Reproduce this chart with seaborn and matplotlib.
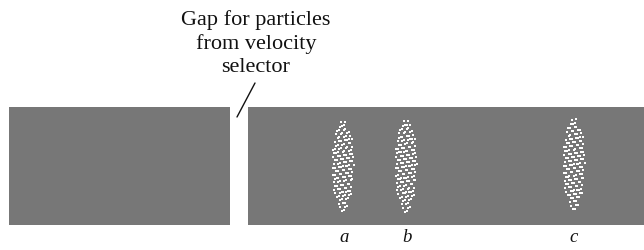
import numpy as np
import pandas as pd
import matplotlib
matplotlib.use("Agg")
import matplotlib.pyplot as plt
import seaborn as sns
from matplotlib.patches import Rectangle

# plate pieces (pixel coords: x0, x1) and common top/bottom
plate_x0 = [9, 248]
plate_x1 = [230, 644]
plate_top = 107
plate_bottom = 225

# particle spots on the plate
spot_labels = ["a", "b", "c"]
spot_x = [343, 406, 574]
spot_y = [166, 166, 164]
spot_w = [22, 22, 22]
spot_h = [92, 94, 93]
spot_dots = [140, 145, 140]
label_x = [344, 407, 574]
label_y = 238

annot_text = "Gap for particles\nfrom velocity\nselector"
annot_xy = (256, 10)
pointer = ([255, 237], [83, 117])

GRAY = "#777777"

sns.set_theme(style="white")
plt.rcParams["font.family"] = ["Liberation Serif", "DejaVu Serif"]

fig = plt.figure(figsize=(6.44, 2.5), dpi=100)
ax = fig.add_axes([0, 0, 1, 1])

for x0, x1 in zip(plate_x0, plate_x1):
    ax.add_patch(Rectangle((x0, plate_top), x1 - x0, plate_bottom - plate_top,
                           facecolor=GRAY, edgecolor="none", zorder=1))

# fill each spot with scattered dots (deterministic R2 sequence, kept inside a spindle)
g = 1.32471795724474602596
a1, a2 = 1 / g, 1 / g ** 2
rows = []
for lab, cx, cy, w, h, n in zip(spot_labels, spot_x, spot_y, spot_w, spot_h, spot_dots):
    pts = []
    i = 0
    while len(pts) < n:
        u = (0.5 + a1 * i) % 1.0
        v = (0.5 + a2 * i) % 1.0
        i += 1
        t = 2 * v - 1
        half = 0.5 * w * (1 - t * t) ** 0.6
        dx = (2 * u - 1) * 0.5 * w
        if abs(dx) <= half:
            pts.append((cx + dx, cy + t * h / 2))
    for px, py in pts:
        rows.append({"spot": lab, "x": px, "y": py})
dots = pd.DataFrame(rows)

sns.scatterplot(data=dots, x="x", y="y", ax=ax, color="white", marker="s",
                s=3.3, linewidth=0, legend=False, zorder=3)
ax.set_xlim(0, 644)
ax.set_ylim(250, 0)
ax.axis("off")

for lab, lx in zip(spot_labels, label_x):
    ax.text(lx, label_y, lab, ha="center", va="center", fontsize=13.5,
            style="italic", color="#111111")

ax.text(annot_xy[0], annot_xy[1], annot_text, ha="center", va="top",
        multialignment="center", fontsize=16, linespacing=1.3, color="#111111")
ax.plot(pointer[0], pointer[1], color="#111111", lw=1)

fig.savefig("out.png", dpi=100)
